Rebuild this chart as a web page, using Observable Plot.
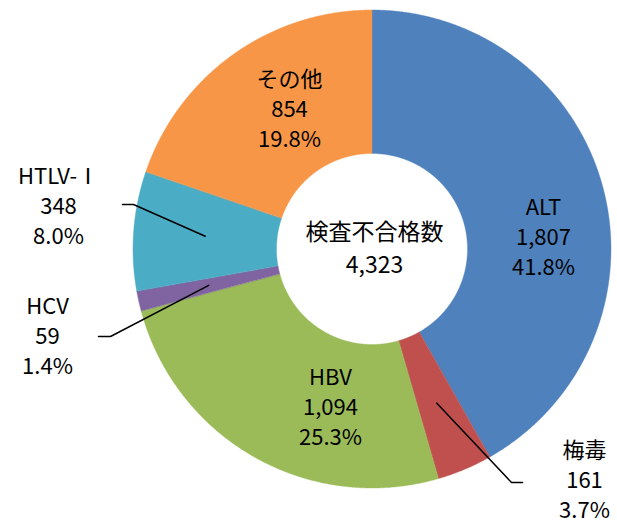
<!DOCTYPE html>
<html>
<head>
<meta charset="utf-8">
<script src="https://cdn.jsdelivr.net/npm/d3@7"></script>
<script src="https://cdn.jsdelivr.net/npm/@observablehq/plot@0.6"></script>
<style>
  html, body { margin: 0; padding: 0; background: #fff; }
  #chart svg { display: block; }
</style>
</head>
<body>
<div id="chart"></div>
<script>
// ---- data ----
const categories = ["ALT", "梅毒", "HBV", "HCV", "HTLV-Ⅰ", "その他"];
const counts = [1807, 161, 1094, 59, 348, 854];
const percents = ["41.8%", "3.7%", "25.3%", "1.4%", "8.0%", "19.8%"];
const colors = ["#4F81BD", "#C0504D", "#9BBB59", "#8064A2", "#4BACC6", "#F79646"];
const centerTitle = "検査不合格数";

// ---- layout (pixels) ----
const W = 617, H = 524;
const cx = 371.5, cy = 248.5, R = 239, r = 95.5;
const labelPos = {
  "ALT": [543, 235], "梅毒": [584, 478], "HBV": [330, 405],
  "HCV": [47, 334], "HTLV-Ⅰ": [58, 204], "その他": [289, 107]
};
const leaderPos = { // elbow, end
  "梅毒": [[511, 482], [522, 482]],
  "HCV": [[110, 336], [98, 336]],
  "HTLV-Ⅰ": [[133, 204], [122, 204]]
};
const centerPos = [374, 245];
const font = "'Noto Sans CJK JP', 'Noto Sans', sans-serif";

const arcs = d3.pie().sort(null).value(d => d)(counts);
const pt = (a, rad) => ({x: cx + rad * Math.sin(a), y: cy - rad * Math.cos(a)});

const slicePts = [];
arcs.forEach((a, i) => {
  const n = Math.max(4, Math.ceil((a.endAngle - a.startAngle) / 0.005));
  for (let k = 0; k <= n; k++) {
    const t = a.startAngle + (a.endAngle - a.startAngle) * k / n;
    slicePts.push({...pt(t, R), name: categories[i], color: colors[i]});
  }
  for (let k = n; k >= 0; k--) {
    const t = a.startAngle + (a.endAngle - a.startAngle) * k / n;
    slicePts.push({...pt(t, r), name: categories[i], color: colors[i]});
  }
});

const labels = categories.map((c, i) => ({
  x: labelPos[c][0], y: labelPos[c][1],
  text: `${c}\n${d3.format(",")(counts[i])}\n${percents[i]}`
}));

const leaders = [];
arcs.forEach((a, i) => {
  const c = categories[i];
  if (!leaderPos[c]) return;
  const mid = (a.startAngle + a.endAngle) / 2;
  leaders.push({...pt(mid, (R + r) / 2), name: c});
  leaders.push({x: leaderPos[c][0][0], y: leaderPos[c][0][1], name: c});
  leaders.push({x: leaderPos[c][1][0], y: leaderPos[c][1][1], name: c});
});

const total = d3.sum(counts);

const chart = Plot.plot({
  width: W, height: H,
  margin: 0,
  x: {domain: [0, W], range: [0, W], axis: null},
  y: {domain: [0, H], range: [0, H], axis: null},
  style: {fontFamily: font, background: "#fff"},
  marks: [
    ...categories.map((c, i) => Plot.line(slicePts.filter(d => d.name === c), {
      x: "x", y: "y", fill: colors[i], stroke: colors[i], strokeWidth: 0.4, curve: "linear-closed"
    })),
    Plot.line(leaders, {x: "x", y: "y", z: "name", stroke: "#000", strokeWidth: 1.5}),
    Plot.text(labels, {x: "x", y: "y", text: "text", fontSize: 22, lineHeight: 1.37, fill: "#000"}),
    Plot.text([{x: centerPos[0], y: centerPos[1], text: `${centerTitle}\n${d3.format(",")(total)}`}],
      {x: "x", y: "y", text: "text", fontSize: 23, lineHeight: 1.45, fill: "#000"})
  ]
});
document.getElementById("chart").appendChild(chart);
</script>
</body>
</html>
